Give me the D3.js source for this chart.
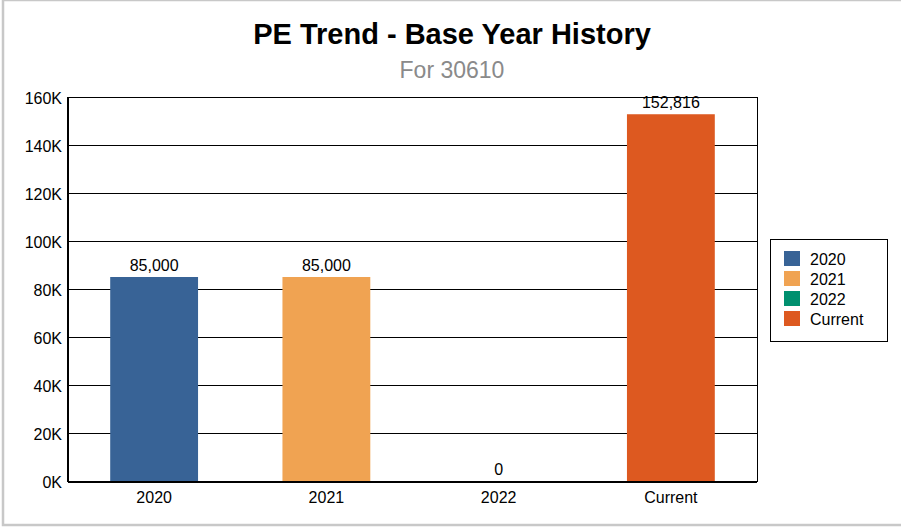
<!DOCTYPE html>
<html>
<head>
<meta charset="utf-8">
<script src="https://cdn.jsdelivr.net/npm/d3@7"></script>
<style>
  body { margin: 0; background: #fff; }
  text { font-family: "Liberation Sans", Arial, sans-serif; }
</style>
</head>
<body>
<svg id="chart" width="901" height="530"></svg>
<script>
// данные графика
var categories = ["2020", "2021", "2022", "Current"];
var values = [85000, 85000, 0, 152816];
var colors = ["#386396", "#f0a352", "#00906f", "#dd5920"];
var yTicks = [0, 20000, 40000, 60000, 80000, 100000, 120000, 140000, 160000];

(function() {
var svg = d3.select("#chart");

// рамка вокруг всего
svg.append("rect")
    .attr("x", 3).attr("y", 0)
    .attr("width", 910).attr("height", 525)
    .attr("fill", "none")
    .attr("stroke", "#c8c8c8")
    .attr("stroke-width", 2.5);

svg.append("text")
    .attr("x", 452).attr("y", 44)
    .attr("text-anchor", "middle")
    .attr("font-size", 29).attr("font-weight", "bold")
    .attr("fill", "#000")
    .text("PE Trend - Base Year History");

svg.append("text")
    .attr("x", 452).attr("y", 78)
    .attr("text-anchor", "middle")
    .attr("font-size", 23)
    .attr("fill", "#8a8a8a")
    .text("For 30610");

var pLeft = 68, pTop = 97, pRight = 757, pBottom = 481;

var x = d3.scaleBand()
    .domain(categories)
    .range([pLeft, pRight])
    .paddingInner(0.49)
    .paddingOuter(0.245);

var y = d3.scaleLinear()
    .domain([0, 160000])
    .range([pBottom, pTop]);

// сетка
svg.append("g")
    .selectAll("line")
    .data(yTicks)
    .enter().append("line")
    .attr("x1", pLeft).attr("x2", pRight)
    .attr("y1", function(d) { return y(d) + 0.5; })
    .attr("y2", function(d) { return y(d) + 0.5; })
    .attr("stroke", "#000")
    .attr("stroke-width", 1);

// ось Y
var yAxis = svg.append("g")
    .attr("transform", "translate(" + pLeft + ",1)")
    .call(d3.axisLeft(y).tickValues(yTicks).tickSize(0).tickPadding(6)
        .tickFormat(function(d) { return (d / 1000) + "K"; }));
yAxis.select(".domain").remove();
yAxis.selectAll("text").attr("font-size", 16).attr("fill", "#000")
    .style("font-family", "'Liberation Sans', Arial, sans-serif");

// столбцы
svg.append("g")
    .selectAll("rect")
    .data(values)
    .enter().append("rect")
    .attr("x", function(d, i) { return x(categories[i]); })
    .attr("y", function(d) { return y(d); })
    .attr("width", x.bandwidth())
    .attr("height", function(d) { return pBottom - y(d); })
    .attr("fill", function(d, i) { return colors[i]; });

// подписи значений
svg.append("g")
    .selectAll("text")
    .data(values)
    .enter().append("text")
    .attr("x", function(d, i) { return x(categories[i]) + x.bandwidth() / 2; })
    .attr("y", function(d) { return y(d) - 6; })
    .attr("text-anchor", "middle")
    .attr("font-size", 16)
    .attr("fill", "#000")
    .text(function(d) { return d3.format(",")(d); });

// рамка области построения
svg.append("rect")
    .attr("x", pLeft + 0.5).attr("y", pTop + 0.5)
    .attr("width", pRight - pLeft).attr("height", pBottom - pTop)
    .attr("fill", "none")
    .attr("stroke", "#000")
    .attr("stroke-width", 1);

svg.append("line")
    .attr("x1", pLeft).attr("x2", pLeft)
    .attr("y1", pTop).attr("y2", pBottom + 1)
    .attr("stroke", "#000").attr("stroke-width", 2);

// ось X
var xAxis = svg.append("g")
    .attr("transform", "translate(0," + pBottom + ")")
    .call(d3.axisBottom(x).tickSize(0).tickPadding(11));
xAxis.select(".domain")
    .attr("stroke", "#000").attr("stroke-width", 2)
    .attr("d", "M" + pLeft + ",1H" + pRight);
xAxis.selectAll("text").attr("font-size", 16).attr("fill", "#000")
    .style("font-family", "'Liberation Sans', Arial, sans-serif");

// легенда
var legend = svg.append("g").attr("transform", "translate(770,239)");
legend.append("rect")
    .attr("x", 0.5).attr("y", 0.5)
    .attr("width", 117).attr("height", 102)
    .attr("fill", "#fff")
    .attr("stroke", "#000");

var items = legend.selectAll(".item")
    .data(categories)
    .enter().append("g")
    .attr("class", "item")
    .attr("transform", function(d, i) { return "translate(14," + (12 + i * 20) + ")"; });

items.append("rect")
    .attr("width", 16).attr("height", 15)
    .attr("fill", function(d, i) { return colors[i]; });

items.append("text")
    .attr("x", 26).attr("y", 14)
    .attr("font-size", 16)
    .attr("fill", "#000")
    .text(function(d) { return d; });
})();
</script>
</body>
</html>
